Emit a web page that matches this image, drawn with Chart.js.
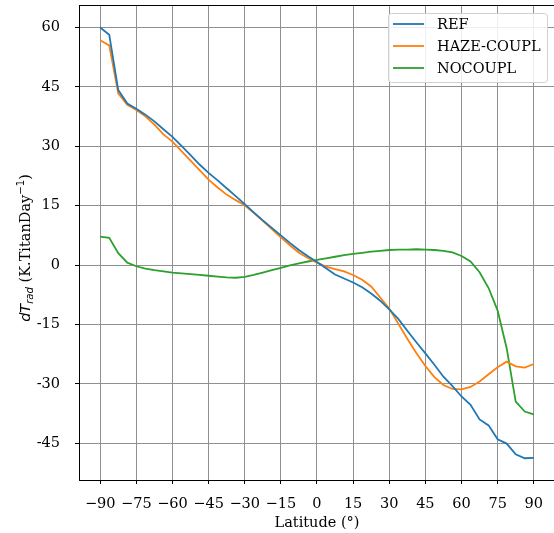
<!DOCTYPE html>
<html>
<head>
<meta charset="utf-8">
<script src="https://cdn.jsdelivr.net/npm/chart.js@4"></script>
<style>
  html, body { margin: 0; padding: 0; background: #fff; }
  #chart { display: block; }
</style>
</head>
<body>
<canvas id="chart" width="554" height="533"></canvas>
<script>
// latitudes (deg), 3.75 deg grid
const latitudes = [
  -90, -86.25, -82.5, -78.75, -75, -71.25, -67.5, -63.75, -60, -56.25, -52.5, -48.75,
  -45, -41.25, -37.5, -33.75, -30, -26.25, -22.5, -18.75, -15, -11.25, -7.5, -3.75,
  0, 3.75, 7.5, 11.25, 15, 18.75, 22.5, 26.25, 30, 33.75, 37.5, 41.25,
  45, 48.75, 52.5, 56.25, 60, 63.75, 67.5, 71.25, 75, 78.75, 82.5, 86.25, 90
];

const refValues = [
  60.0, 58.2, 44.2, 40.8, 39.5, 38.0, 36.3, 34.3, 32.4, 30.1, 27.8, 25.4,
  23.3, 21.4, 19.4, 17.4, 15.4, 13.3, 11.3, 9.4, 7.5, 5.6, 3.8, 2.2,
  0.8, -0.8, -2.4, -3.4, -4.4, -5.6, -7.2, -9.0, -11.2, -13.6, -16.6, -19.5,
  -22.3, -25.2, -28.2, -30.6, -33.2, -35.3, -39.0, -40.5, -44.0, -45.1, -47.8, -48.8, -48.7
];

const hazeValues = [
  56.8, 55.5, 43.4, 40.5, 39.2, 37.6, 35.5, 33.0, 31.2, 28.8, 26.4, 24.0,
  21.6, 19.6, 17.8, 16.4, 15.1, 13.2, 11.2, 9.1, 7.0, 5.0, 3.1, 1.8,
  0.6, -0.4, -1.0, -1.6, -2.5, -3.7, -5.4, -8.2, -11.0, -14.8, -18.6, -22.2,
  -25.5, -28.3, -30.3, -31.3, -31.4, -30.8, -29.4, -27.6, -25.8, -24.4, -25.6, -25.9, -25.0
];

const nocouplValues = [
  7.2, 6.9, 3.0, 0.6, -0.3, -0.9, -1.3, -1.6, -1.9, -2.1, -2.3, -2.5,
  -2.7, -2.9, -3.1, -3.2, -3.0, -2.5, -1.9, -1.3, -0.7, -0.1, 0.4, 0.9,
  1.3, 1.7, 2.1, 2.5, 2.8, 3.1, 3.4, 3.6, 3.8, 3.9, 3.9, 4.0,
  3.9, 3.8, 3.6, 3.2, 2.3, 0.9, -1.8, -5.8, -11.5, -21.0, -34.5, -37.0, -37.7
];

const xTicks = [-90, -75, -60, -45, -30, -15, 0, 15, 30, 45, 60, 75, 90];
const yTicks = [-45, -30, -15, 0, 15, 30, 45, 60];

const seriesNames = ["REF", "HAZE-COUPL", "NOCOUPL"];
const seriesColors = ["#1f77b4", "#ff7f0e", "#2ca02c"];

const SERIF = '"DejaVu Serif", serif';
const FS = 14.5;

function toPoints(values) {
  return latitudes.map((lat, i) => ({ x: lat, y: values[i] }));
}

// top spine, legend and axis titles
const decorPlugin = {
  id: "decor",
  afterDraw(chart) {
    const ctx = chart.ctx;
    const area = chart.chartArea;
    ctx.save();

    // top spine
    ctx.strokeStyle = "#000";
    ctx.lineWidth = 1;
    ctx.beginPath();
    ctx.moveTo(area.left, area.top + 0.5);
    ctx.lineTo(area.right, area.top + 0.5);
    ctx.stroke();

    // legend
    const lx = 388, ly = 13, lw = 159, lh = 69;
    ctx.fillStyle = "rgba(255,255,255,0.85)";
    ctx.strokeStyle = "#d0d0d0";
    ctx.beginPath();
    ctx.roundRect(lx + 0.5, ly + 0.5, lw, lh, 3);
    ctx.fill();
    ctx.stroke();
    ctx.font = FS + "px " + SERIF;
    ctx.textBaseline = "middle";
    ctx.textAlign = "left";
    seriesNames.forEach((name, i) => {
      const y = ly + 11 + i * 22;
      ctx.strokeStyle = seriesColors[i];
      ctx.lineWidth = 1.8;
      ctx.beginPath();
      ctx.moveTo(393, y);
      ctx.lineTo(424, y);
      ctx.stroke();
      ctx.fillStyle = "#000";
      ctx.fillText(name, 437, y + 1);
    });

    // x title
    ctx.fillStyle = "#000";
    ctx.textAlign = "center";
    ctx.textBaseline = "alphabetic";
    ctx.font = FS + "px " + SERIF;
    ctx.fillText("Latitude (°)", (area.left + 555) / 2, 527);

    // y title (rotated, with sub/superscript)
    const parts = [
      { t: "dT", font: "italic " + FS + "px \"DejaVu Sans\"", dy: 0 },
      { t: "rad", font: "italic " + (FS * 0.7) + "px \"DejaVu Sans\"", dy: 3 },
      { t: " (K.TitanDay", font: FS + "px " + SERIF, dy: 0 },
      { t: "\u22121", font: (FS * 0.7) + "px \"DejaVu Sans\"", dy: -6 },
      { t: ")", font: FS + "px " + SERIF, dy: 0 }
    ];
    let total = 0;
    parts.forEach((p) => {
      ctx.font = p.font;
      p.w = ctx.measureText(p.t).width;
      total += p.w;
    });
    ctx.translate(25, 248);
    ctx.rotate(-Math.PI / 2);
    ctx.textAlign = "left";
    let cx = -total / 2;
    parts.forEach((p) => {
      ctx.font = p.font;
      ctx.fillText(p.t, cx, 5 + p.dy);
      cx += p.w;
    });
    ctx.restore();
  }
};

Chart.defaults.color = "#000";
Chart.defaults.font.family = SERIF;
Chart.defaults.font.size = FS;

new Chart(document.getElementById("chart"), {
  type: "line",
  data: {
    datasets: [refValues, hazeValues, nocouplValues].map((vals, i) => ({
      label: seriesNames[i],
      data: toPoints(vals),
      borderColor: seriesColors[i],
      backgroundColor: seriesColors[i],
      borderWidth: 1.8,
      pointRadius: 0,
      tension: 0,
      fill: false
    }))
  },
  options: {
    responsive: false,
    animation: false,
    layout: { padding: { top: 5, left: 0, right: 0, bottom: 0 } },
    plugins: {
      legend: { display: false },
      tooltip: { enabled: false }
    },
    scales: {
      x: {
        type: "linear",
        min: -98.8,
        max: 98.4,
        afterBuildTicks: (scale) => {
          scale.ticks = xTicks.map((v) => ({ value: v }));
        },
        afterFit: (scale) => {
          scale.height = 53;
          scale.paddingLeft = 0;
          scale.paddingRight = 0;
        },
        ticks: {
          padding: 12,
          maxRotation: 0,
          callback: (v) => (v < 0 ? "\u2212" + Math.abs(v) : String(v))
        },
        grid: {
          color: "#909090",
          lineWidth: 1,
          tickLength: 4,
          tickColor: "#000"
        },
        border: { color: "#000", width: 1 }
      },
      y: {
        type: "linear",
        min: -54.3,
        max: 65.7,
        afterBuildTicks: (scale) => {
          scale.ticks = yTicks.map((v) => ({ value: v }));
        },
        afterFit: (scale) => {
          scale.width = 79;
          scale.paddingTop = 0;
          scale.paddingBottom = 0;
        },
        ticks: {
          padding: 15,
          callback: (v) => String(v)
        },
        grid: {
          color: "#909090",
          lineWidth: 1,
          tickLength: 4,
          tickColor: "#000"
        },
        border: { color: "#000", width: 1 }
      }
    }
  },
  plugins: [decorPlugin]
});
</script>
</body>
</html>
